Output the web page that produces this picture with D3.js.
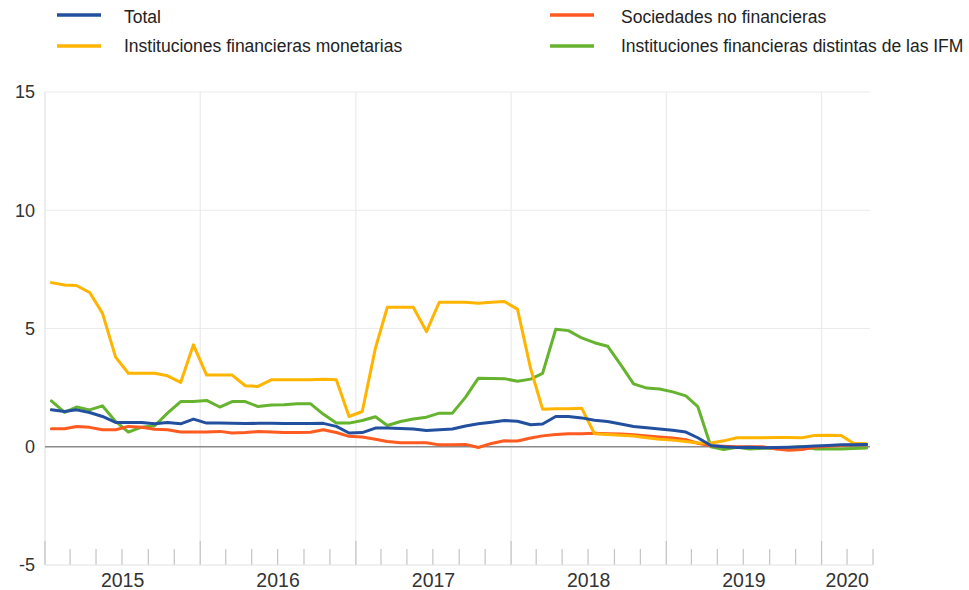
<!DOCTYPE html>
<html><head><meta charset="utf-8">
<script src="https://cdn.jsdelivr.net/npm/d3@7/dist/d3.min.js"></script>
<style>
body{margin:0;background:#fff;}
svg{display:block;font-family:"Liberation Sans",Arial,sans-serif;}
</style></head>
<body><svg id="chart" width="969" height="590"></svg>
<script>
// ---- data (monthly, Jan 2015 – Apr 2020) ----
const startYear = 2015, startMonth = 0;
const seriesNames = ["Total","Instituciones financieras monetarias","Sociedades no financieras","Instituciones financieras distintas de las IFM"];
const total = [1.56,1.49,1.56,1.45,1.28,1.03,1.03,1.03,0.97,1.03,0.97,1.17,1.0,1.0,0.99,0.98,
  0.99,0.99,0.98,0.98,0.98,0.99,0.86,0.58,0.6,0.79,0.79,0.77,0.75,0.69,0.72,0.75,
  0.88,0.97,1.04,1.11,1.08,0.93,0.96,1.28,1.28,1.22,1.12,1.07,0.96,0.86,0.8,0.75,
  0.7,0.62,0.38,0.05,0.0,-0.03,-0.02,-0.04,-0.03,-0.02,0.0,0.03,0.05,0.08,0.08,0.1];
const ifm = [6.94,6.84,6.82,6.52,5.65,3.79,3.11,3.11,3.11,3.0,2.72,4.31,3.03,3.03,3.03,2.58,
  2.55,2.83,2.83,2.83,2.83,2.85,2.83,1.28,1.49,4.17,5.9,5.9,5.9,4.87,6.11,6.11,
  6.11,6.07,6.11,6.14,5.82,3.3,1.59,1.61,1.61,1.63,0.55,0.52,0.49,0.45,0.38,0.32,
  0.28,0.22,0.16,0.16,0.25,0.38,0.38,0.38,0.39,0.39,0.38,0.48,0.49,0.48,0.15,0.13];
const snf = [0.76,0.76,0.86,0.82,0.72,0.72,0.86,0.82,0.74,0.72,0.62,0.62,0.62,0.65,0.58,0.6,
  0.64,0.62,0.6,0.6,0.61,0.72,0.6,0.44,0.41,0.32,0.22,0.17,0.17,0.17,0.08,0.08,
  0.1,-0.03,0.14,0.25,0.24,0.37,0.46,0.52,0.55,0.55,0.57,0.55,0.54,0.51,0.46,0.41,
  0.37,0.3,0.15,0.04,0.02,0.0,0.0,0.0,-0.1,-0.15,-0.12,-0.02,0.02,0.05,0.08,0.08];
const ifnm = [1.94,1.45,1.68,1.56,1.73,1.07,0.62,0.83,0.89,1.42,1.91,1.91,1.96,1.68,1.91,1.91,
  1.7,1.77,1.78,1.82,1.82,1.38,1.0,1.0,1.11,1.27,0.9,1.07,1.17,1.25,1.42,1.42,
  2.1,2.9,2.89,2.88,2.77,2.86,3.1,4.97,4.91,4.6,4.4,4.25,3.46,2.66,2.48,2.44,
  2.32,2.15,1.7,0.0,-0.12,-0.02,-0.1,-0.06,-0.06,-0.03,0.0,-0.09,-0.09,-0.09,-0.07,-0.05];
const yTicks = [-5,0,5,10,15];
const yearLabels = ["2015","2016","2017","2018","2019","2020"];
const colors = ["#22509f","#ffb400","#ff5a1f","#65b32e"];

// ---- layout ----
const svg = d3.select("#chart");
const pL = 45, pR = 873, pT = 92, pB = 565;
const x = d3.scaleTime().domain([new Date(2015,0,1), new Date(2020,4,1)]).range([pL, pR]);
const y = d3.scaleLinear().domain([-5,15]).range([pB, pT]);
const grid = "#ebebeb";

// horizontal gridlines
svg.append("g").selectAll("line").data(yTicks.filter(v=>v>0)).join("line")
  .attr("x1", pL).attr("x2", 870).attr("y1", d=>y(d)).attr("y2", d=>y(d))
  .attr("stroke", grid).attr("stroke-width", 1.2);
// vertical year gridlines
const years = d3.timeYear.range(new Date(2016,0,1), new Date(2020,4,1));
svg.append("g").selectAll("line").data(years).join("line")
  .attr("x1", d=>x(d)).attr("x2", d=>x(d)).attr("y1", pT).attr("y2", pB)
  .attr("stroke", grid).attr("stroke-width", 1.2);
// left border
svg.append("line").attr("x1", pL).attr("x2", pL).attr("y1", pT).attr("y2", pB)
  .attr("stroke", "#e2e2e2").attr("stroke-width", 1.2);

// y axis labels
const yAxis = d3.axisLeft(y).tickValues(yTicks).tickSize(0).tickPadding(10).tickFormat(d=>String(d));
const gy = svg.append("g").attr("transform", `translate(${pL},0)`).call(yAxis);
gy.select(".domain").remove();
gy.selectAll("text").attr("font-size", 18).attr("fill", "#333").attr("font-family", "Liberation Sans, Arial, sans-serif");

// bottom ticks
const minor = d3.timeMonth.every(2).range(new Date(2015,0,1), new Date(2020,4,2));
svg.append("g").selectAll("line").data(minor).join("line")
  .attr("x1", d=>x(d)).attr("x2", d=>x(d))
  .attr("y1", d=> d.getMonth()===0 ? pB-24 : pB-16).attr("y2", pB)
  .attr("stroke", "#c4c4c4").attr("stroke-width", 1.2);
svg.append("line").attr("x1", pL).attr("x2", pR).attr("y1", pB).attr("y2", pB)
  .attr("stroke", "#e2e2e2").attr("stroke-width", 1);

// year labels
const domEnd = x.domain()[1];
svg.append("g").selectAll("text").data(yearLabels).join("text")
  .attr("x", d=>{ const s = new Date(+d,0,1), e = new Date(+d+1,0,1); return (x(s)+x(e>domEnd?domEnd:e))/2; })
  .attr("y", 587).attr("text-anchor","middle").attr("font-size", 19.5).attr("fill","#333").text(d=>d);

// zero line
svg.append("line").attr("x1", pL).attr("x2", 870).attr("y1", y(0)).attr("y2", y(0))
  .attr("stroke", "#8a8a8a").attr("stroke-width", 1.5);

// lines
const allSeries = [ifnm, snf, ifm, total];
const allColors = [colors[3], colors[2], colors[1], colors[0]];
const line = d3.line().x((d,i)=>x(new Date(startYear, startMonth+i, 16))).y(d=>y(d));
svg.append("g").selectAll("path").data(allSeries).join("path")
  .attr("d", d=>line(d)).attr("fill","none")
  .attr("stroke", (d,i)=>allColors[i]).attr("stroke-width", 3)
  .attr("stroke-linejoin","round").attr("stroke-linecap","round");

// legend
const legendPos = [[57,15,124,23],[57,46,124,52],[550,15,621,23],[550,46,621,52]];
const leg = svg.append("g");
seriesNames.forEach((n,i)=>{
  const p = legendPos[i];
  leg.append("line").attr("x1",p[0]).attr("x2",p[0]+44).attr("y1",p[1]).attr("y2",p[1])
    .attr("stroke", colors[i]).attr("stroke-width", 3.5);
  leg.append("text").attr("x",p[2]).attr("y",p[3]).attr("font-size",17.5).attr("fill","#222").text(n);
});
</script></body></html>
